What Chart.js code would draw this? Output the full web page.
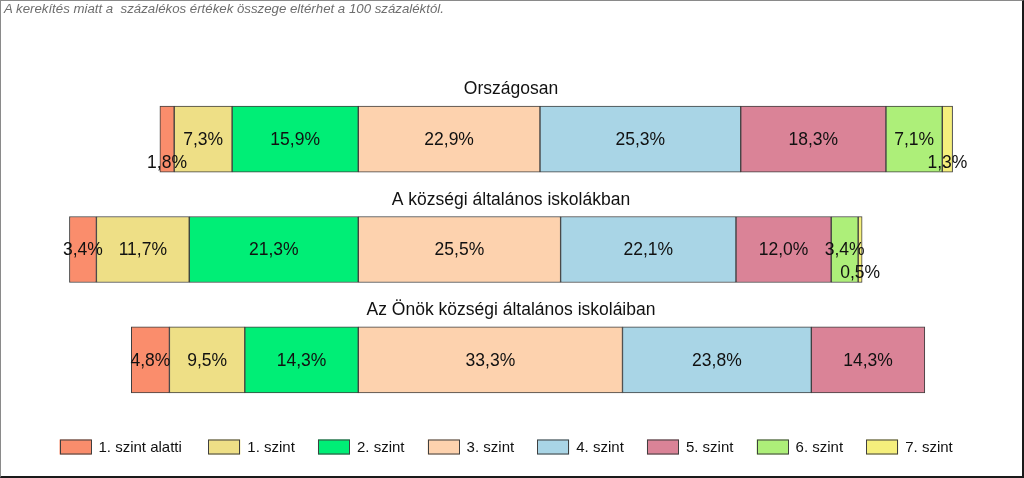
<!DOCTYPE html>
<html>
<head>
<meta charset="utf-8">
<script src="https://cdn.jsdelivr.net/npm/chart.js@4"></script>
<style>
  html, body { margin: 0; padding: 0; background: #fff; }
  #wrap { position: relative; width: 1024px; height: 478px; overflow: hidden; }
  #frame { position: absolute; left: 0; top: 0; width: 1024px; height: 478px; box-sizing: border-box;
           border-left: 1px solid #8a8a8a; border-top: 1px solid #8a8a8a;
           border-right: 2px solid #1a1a1a; border-bottom: 2px solid #1a1a1a; pointer-events: none; }
  #note { position: absolute; left: 4px; top: 1px; font-family: "Liberation Sans", Arial, sans-serif;
          font-style: italic; font-size: 13.25px; color: #6e6e6e; white-space: pre; }
  canvas { position: absolute; left: 0; top: 0; }
</style>
</head>
<body>
<div id="wrap">
  <canvas id="c" width="1024" height="478"></canvas>
  <div id="note">A kerekítés miatt a  százalékos értékek összege eltérhet a 100 százaléktól.</div>
  <div id="frame"></div>
</div>
<script>
// ---- data ----
const categories = ['Országosan', 'A községi általános iskolákban', 'Az Önök községi általános iskoláiban'];
const levels = ['1. szint alatti', '1. szint', '2. szint', '3. szint', '4. szint', '5. szint', '6. szint', '7. szint'];
const orszagosan = [1.8, 7.3, 15.9, 22.9, 25.3, 18.3, 7.1, 1.3];
const kozsegi    = [3.4, 11.7, 21.3, 25.5, 22.1, 12.0, 3.4, 0.5];
const onok       = [4.8, 9.5, 14.3, 33.3, 23.8, 14.3, null, null];
const colors = ['#FA8D6C', '#EEDF86', '#00EE76', '#FDD2AE', '#A9D5E6', '#DA8397', '#ADEF79', '#F5EF7C'];

// diverging floating ranges: levels 0..2 to the left of zero, 3..7 to the right
const seriesRows = [orszagosan, kozsegi, onok];
function ranges(row) {
  const out = new Array(row.length).fill(null);
  let left = 0;
  for (let i = 2; i >= 0; i--) {
    const v = row[i];
    if (v == null) continue;
    out[i] = [-(left + v), -left];
    left += v;
  }
  let right = 0;
  for (let i = 3; i < row.length; i++) {
    const v = row[i];
    if (v == null) continue;
    out[i] = [right, right + v];
    right += v;
  }
  return out;
}
const rowRanges = seriesRows.map(ranges);

const datasets = levels.map((lab, li) => ({
  label: lab,
  data: rowRanges.map(r => r[li]),
  values: seriesRows.map(r => r[li]),
  backgroundColor: colors[li],
  borderColor: '#3f3f3f',
  borderWidth: 1,
  borderSkipped: false,
  barThickness: 66,
  grouped: false
}));

const FONT = '"Liberation Sans", Arial, sans-serif';

const overlay = {
  id: 'overlay',
  afterDatasetsDraw(chart) {
    const ctx = chart.ctx;
    ctx.save();
    // value labels
    ctx.font = '17.5px ' + FONT;
    ctx.fillStyle = '#111';
    ctx.textAlign = 'center';
    ctx.textBaseline = 'middle';
    chart.data.datasets.forEach((ds, di) => {
      const meta = chart.getDatasetMeta(di);
      meta.data.forEach((el, i) => {
        const v = ds.values[i];
        if (v == null) return;
        const cx = (el.x + el.base) / 2;
        let cy = el.y + 1;
        if (v < 2) cy += 23;
        ctx.fillText(v.toFixed(1).replace('.', ',') + '%', cx, cy);
      });
    });
    // category titles above bars
    ctx.font = '17.5px ' + FONT;
    ctx.textBaseline = 'alphabetic';
    const ys = chart.scales.y;
    const cxMid = (chart.chartArea.left + chart.chartArea.right) / 2;
    chart.data.labels.forEach((lab, i) => {
      const y = ys.getPixelForValue(i);
      ctx.fillText(lab, cxMid - 1, y - 33 - 12);
    });
    // legend
    ctx.font = '15px ' + FONT;
    ctx.textAlign = 'left';
    ctx.textBaseline = 'middle';
    const ly = 447;
    chart.data.datasets.forEach((ds, di) => {
      const x = di === 0 ? 59.5 : 208.3 + (di - 1) * 109.66;
      ctx.fillStyle = ds.backgroundColor;
      ctx.fillRect(x, ly - 7.5, 32, 15);
      ctx.strokeStyle = '#3f3f3f';
      ctx.lineWidth = 1;
      ctx.strokeRect(Math.round(x) + 0.5, ly - 7, 31, 14);
      ctx.fillStyle = '#111';
      ctx.fillText(ds.label, x + 39, ly + 1);
    });
    ctx.restore();
  }
};

new Chart(document.getElementById('c'), {
  type: 'bar',
  data: { labels: categories, datasets },
  options: {
    indexAxis: 'y',
    responsive: false,
    animation: false,
    layout: { padding: { left: 0, right: 0, top: 84, bottom: 63 } },
    scales: {
      x: { display: false, min: -45.15, max: 83.9 },
      y: { display: false }
    },
    plugins: { legend: { display: false }, tooltip: { enabled: false } }
  },
  plugins: [overlay]
});
</script>
</body>
</html>
